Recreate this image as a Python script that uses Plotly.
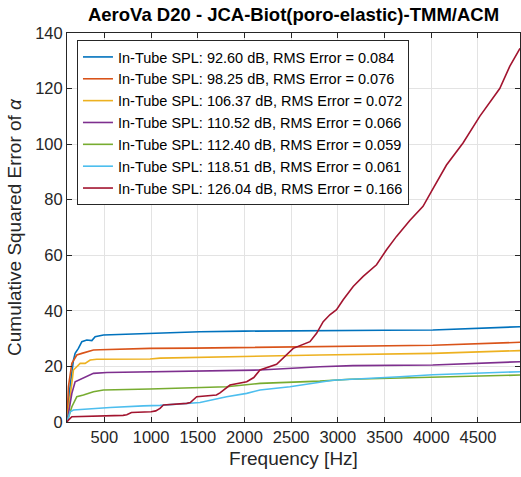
import plotly.graph_objects as go

# ---- data ----
labels = [
    "In-Tube SPL: 92.60 dB, RMS Error = 0.084",
    "In-Tube SPL: 98.25 dB, RMS Error = 0.076",
    "In-Tube SPL: 106.37 dB, RMS Error = 0.072",
    "In-Tube SPL: 110.52 dB, RMS Error = 0.066",
    "In-Tube SPL: 112.40 dB, RMS Error = 0.059",
    "In-Tube SPL: 118.51 dB, RMS Error = 0.061",
    "In-Tube SPL: 126.04 dB, RMS Error = 0.166",
]
colors = ["#0072BD", "#D95319", "#EDB120", "#7E2F8E", "#77AC30", "#4DBEEE", "#A2142F"]

f_blue = [100, 105, 130, 152, 169, 187, 222, 259, 312, 366, 401, 490, 561, 989, 1096, 1524, 2000, 2807, 3500, 4016, 4487, 4950]
v_blue = [0, 3, 12, 18.7, 22.3, 24.7, 26.5, 28.9, 29.5, 29.3, 30.7, 31.3, 31.4, 31.9, 32, 32.5, 32.7, 33, 33, 33.1, 33.8, 34.3]

f_orange = [100, 115, 152, 205, 259, 312, 383, 454, 989, 1452, 2807, 4016, 4950]
v_orange = [0, 12.7, 21.1, 24.1, 24.7, 25.3, 25.9, 26.0, 26.5, 26.6, 27.1, 27.6, 28.7]

f_yellow = [100, 134, 169, 241, 294, 348, 419, 989, 1096, 2807, 4016, 4950]
v_yellow = [0, 10.3, 18.7, 21.1, 21.1, 22.3, 22.6, 22.7, 23, 24.1, 24.7, 25.7]

f_purple = [100, 152, 187, 241, 312, 383, 526, 989, 1096, 2166, 2807, 3160, 4016, 4950]
v_purple = [0, 10.3, 14.5, 15.4, 16.3, 17.5, 17.8, 18.0, 18.1, 18.7, 19.9, 20.3, 20.5, 21.7]

f_green = [100, 152, 205, 276, 383, 490, 989, 1096, 1524, 1809, 2166, 2594, 2807, 3128, 4016, 4950]
v_green = [0, 5.5, 9.1, 9.7, 10.9, 11.5, 11.9, 12.0, 12.3, 12.7, 13.9, 14.3, 14.7, 15.4, 16.1, 16.9]

f_cyan = [100, 134, 169, 241, 561, 918, 1096, 1524, 1809, 2024, 2166, 2487, 2594, 2807, 2947, 3663, 4016, 4950]
v_cyan = [0, 3.7, 4.3, 4.5, 5.2, 5.8, 6.0, 7.0, 9.1, 10.3, 11.5, 12.7, 13.2, 14.3, 15.0, 16.3, 17.0, 18.1]

f_red = [100, 115, 152, 500, 700, 740, 790, 1000, 1050, 1096, 1132, 1382, 1420, 1489, 1700, 1738, 1845,
         2024, 2100, 2166, 2300, 2344, 2522, 2594, 2701, 2772, 2843, 2914, 2986, 3057, 3164, 3271, 3414,
         3521, 3628, 3770, 3912, 4002, 4163, 4340, 4519, 4733, 4840, 4950]
v_red = [0, 0.7, 1.9, 2.1, 2.4, 2.6, 3.4, 3.7, 4.0, 4.9, 6.1, 6.7, 7.0, 9.1, 9.7, 10.5, 13.3,
         14.5, 16.0, 18.7, 20.2, 20.8, 26.5, 27.4, 28.9, 31.9, 36.1, 38.6, 40.4, 44.0, 48.8, 52.4, 56.6,
         62.0, 66.8, 72.5, 77.6, 83.0, 92.5, 100.4, 110.0, 120.0, 128.0, 134.5]

x_ticks = [500, 1000, 1500, 2000, 2500, 3000, 3500, 4000, 4500]
y_ticks = [0, 20, 40, 60, 80, 100, 120, 140]

series_f = [f_blue, f_orange, f_yellow, f_purple, f_green, f_cyan, f_red]
series_v = [v_blue, v_orange, v_yellow, v_purple, v_green, v_cyan, v_red]

FONT = "Liberation Sans, Arial, Helvetica, sans-serif"
AX = "#262626"

fig = go.Figure()
for lab, col, fx, vy in zip(labels, colors, series_f, series_v):
    fig.add_trace(go.Scatter(x=fx, y=vy, mode="lines", name=lab,
                             line=dict(color=col, width=1.6)))

axis_common = dict(showline=True, linecolor=AX, linewidth=1, mirror="ticks",
                   ticks="inside", ticklen=5, tickcolor=AX,
                   showgrid=True, gridcolor="#e3e3e3", gridwidth=1,
                   zeroline=False, tickfont=dict(family=FONT, size=16.5, color=AX))

fig.update_xaxes(range=[100, 4950], tickvals=x_ticks,
                 title=dict(text="Frequency [Hz]", font=dict(family=FONT, size=19, color=AX), standoff=6),
                 **axis_common)
fig.update_yaxes(range=[0, 140], tickvals=y_ticks,
                 title=dict(text="Cumulative Squared Error of <i>α</i>", font=dict(family=FONT, size=19, color=AX), standoff=8),
                 **axis_common)

fig.update_layout(
    width=521, height=477,
    margin=dict(l=67, r=1, t=33, b=55),
    plot_bgcolor="white", paper_bgcolor="white",
    title=dict(text="<b>AeroVa D20 - JCA-Biot(poro-elastic)-TMM/ACM</b>",
               font=dict(family=FONT, size=18.5, color="black"),
               x=(293.5 / 521), xanchor="center", y=1 - 15 / 477, yanchor="middle"),
    legend=dict(x=0.022, y=0.982, xanchor="left", yanchor="top",
                bgcolor="white", bordercolor=AX, borderwidth=1,
                font=dict(family=FONT, size=14.5, color="black"),
                itemwidth=30, tracegroupgap=0),
    showlegend=True,
)

fig.write_html("out.html")
